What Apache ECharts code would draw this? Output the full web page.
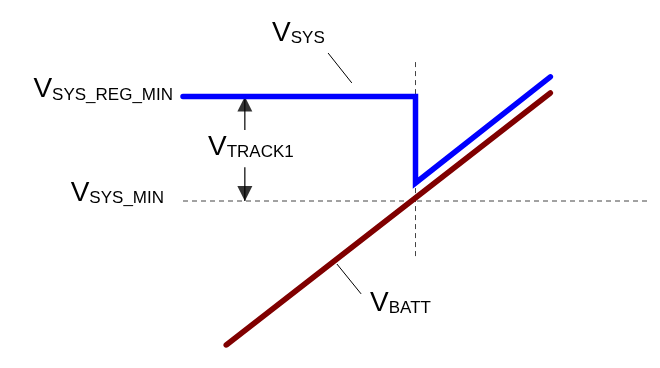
<!DOCTYPE html>
<html>
<head>
<meta charset="utf-8">
<script src="https://cdn.jsdelivr.net/npm/echarts@6/dist/echarts.min.js"></script>
<style>
html,body{margin:0;padding:0;background:#fff;}
#c{width:660px;height:368px;}
</style>
</head>
<body>
<div id="c"></div>
<script>
// ---- values (abstract units) ----
const xRange = [0, 10];
const yRange = [1, 10];
const vSysMin = 5.0;
const vSysRegMin = 7.9;
const xTransition = 5.0;
const vsysX = [0, 5, 5, 7.9];
const vsysY = [7.9, 7.9, 5.5, 8.45];
const vbattX = [0.93, 7.9];
const vbattY = [1.0, 8.0];
const guideVX = [5, 5];
const guideVY = [3.47, 8.86];
const guideHX = [0, 10];
const trackX = 1.33;
const trackStemTop = 6.97;     // upper arrow stem start
const trackStemBottom = 5.94;  // lower arrow stem start
const vsysLeaderX = [3.12, 3.63];
const vsysLeaderY = [9.11, 8.28];
const vbattLeaderX = [3.31, 3.83];
const vbattLeaderY = [3.25, 2.42];
const labelMain = ['V', 'V', 'V', 'V', 'V'];
const labelSub = ['SYS_REG_MIN', 'SYS_MIN', 'TRACK1', 'SYS', 'BATT'];

const zip = (xs, ys) => xs.map((x, i) => [x, ys[i]]);

const chart = echarts.init(document.getElementById('c'), null, {renderer: 'canvas'});
const thin = (data, color, type, width) => ({
  type: 'line', data: data, showSymbol: false, symbol: 'none', silent: true,
  lineStyle: {color: color, width: width, type: type}, z: 1
});
const option = {
  animation: false,
  grid: {left: 183, right: 12, top: 21, bottom: 23},
  xAxis: {type: 'value', min: xRange[0], max: xRange[1], show: false},
  yAxis: {type: 'value', min: yRange[0], max: yRange[1], show: false},
  series: [
    thin(zip(guideHX, [vSysMin, vSysMin]), '#444', [5, 4], 1),
    thin(zip(guideVX, guideVY), '#444', [5, 4], 1),
    thin(zip(vsysLeaderX, vsysLeaderY), '#000', 'solid', 1),
    thin(zip(vbattLeaderX, vbattLeaderY), '#000', 'solid', 1),
    thin([[trackX, trackStemTop], [trackX, vSysRegMin]], '#000', 'solid', 1.2),
    thin([[trackX, trackStemBottom], [trackX, vSysMin]], '#000', 'solid', 1.2),
    {
      type: 'scatter', silent: true, z: 3,
      data: [[trackX, vSysRegMin]],
      symbol: 'triangle', symbolSize: [15, 15], symbolOffset: [0, '50%'],
      itemStyle: {color: '#000'}
    },
    {
      type: 'scatter', silent: true, z: 3,
      data: [[trackX, vSysMin]],
      symbol: 'triangle', symbolSize: [15, 15], symbolRotate: 180, symbolOffset: [0, '-50%'],
      itemStyle: {color: '#000'}
    },
    {
      type: 'line', name: 'VBATT', data: zip(vbattX, vbattY), showSymbol: false, symbol: 'none', silent: true, z: 4,
      lineStyle: {color: '#800000', width: 5.5, cap: 'round', join: 'round'}
    },
    {
      type: 'line', name: 'VSYS', data: zip(vsysX, vsysY), showSymbol: false, symbol: 'none', silent: true, z: 5,
      lineStyle: {color: '#0000ff', width: 5.5, cap: 'round', join: 'miter'}
    }
  ]
};
chart.setOption(option);

// ---- labels, placed from data anchors via the chart's scales ----
const P = p => chart.convertToPixel({gridIndex: 0}, p);
const anchors = [
  {at: [xRange[0], vSysRegMin], dx: -10, dy: -21, align: 'right'},
  {at: [xRange[0], vSysMin], dx: -19, dy: -22, align: 'right'},
  {at: [trackX, vSysMin], dx: 6, dy: -68, align: 'center'},
  {at: [vsysLeaderX[0], vsysLeaderY[0]], dx: -56, dy: -34, align: 'left'},
  {at: [vbattLeaderX[1], vbattLeaderY[1]], dx: 9, dy: -5, align: 'left'}
];
const rich = {
  v: {fontSize: 28, lineHeight: 28, verticalAlign: 'bottom', fontFamily: '"Liberation Sans Narrow", "Liberation Sans", Arial, sans-serif', fill: '#000', color: '#000'},
  s: {fontSize: 17, lineHeight: 17, verticalAlign: 'bottom', fontFamily: '"Liberation Sans", Arial, sans-serif', fill: '#000', color: '#000'}
};
const graphic = anchors.map((a, i) => {
  const p = P(a.at);
  return {
    type: 'text', x: p[0] + a.dx, y: p[1] + a.dy, silent: true, z: 10,
    style: {
      text: '{v|' + labelMain[i] + '}{s|' + labelSub[i] + '}',
      rich: rich, align: a.align, verticalAlign: 'top', fill: '#000'
    }
  };
});
chart.setOption({graphic: graphic});
</script>
</body>
</html>
